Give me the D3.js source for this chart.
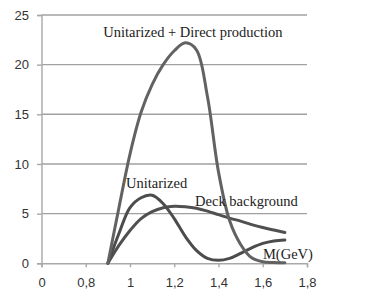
<!DOCTYPE html>
<html><head><meta charset="utf-8">
<script src="https://cdn.jsdelivr.net/npm/d3@7"></script>
<style>html,body{margin:0;padding:0;background:#fff;}svg{display:block;}</style>
</head><body>
<svg id="c" width="374" height="307"></svg>
<script>
const xs = [0.9,0.95,1.0,1.05,1.1,1.15,1.2,1.25,1.3,1.35,1.4,1.45,1.5,1.55,1.6,1.65,1.7];
const direct = [0,5.6,11.0,15.2,18.0,20.0,21.4,22.2,21.5,16.8,9.2,4.3,1.9,0.55,0.15,0.08,0.05];
const unitarized = [0,3.0,5.6,6.6,6.85,6.0,4.5,2.7,1.3,0.5,0.3,0.5,1.0,1.55,2.0,2.25,2.35];
const deck = [0,1.8,3.3,4.5,5.2,5.6,5.75,5.7,5.55,5.25,4.9,4.55,4.25,3.9,3.6,3.35,3.1];
const xTicks = [0.6,0.8,1.0,1.2,1.4,1.6,1.8];
const xTickLabels = ["0","0,8","1","1,2","1,4","1,6","1,8"];
const yTicks = [0,5,10,15,20,25];
const labels = [
  {t:"Unitarized + Direct production", x:0.879, y:22.8},
  {t:"Unitarized", x:0.982, y:7.6},
  {t:"Deck background", x:1.294, y:5.8},
  {t:"M(GeV)", x:1.601, y:0.45}
];

const svg = d3.select("#c");
const x = d3.scaleLinear().domain([0.6,1.8]).range([41.5,307]);
const y = d3.scaleLinear().domain([0,25]).range([263.3,15]);

// gridlines
svg.append("g").selectAll("line").data(yTicks.filter(d=>d>0)).join("line")
  .attr("x1",x(0.6)).attr("x2",x(1.8)).attr("y1",d=>y(d)).attr("y2",d=>y(d))
  .attr("stroke","#a0a0a0").attr("stroke-width",1.4);

// y axis
const ya = svg.append("g").attr("transform",`translate(${x(0.6)},0)`)
  .call(d3.axisLeft(y).tickValues(yTicks).tickSize(4.5).tickPadding(8).tickFormat(d3.format("d")));
ya.select(".domain").attr("stroke","#a8a8a8").attr("stroke-width",1.4);
ya.selectAll(".tick line").attr("stroke","#a8a8a8").attr("stroke-width",1.4);
ya.selectAll("text").attr("font-family","'Liberation Sans', Arial, sans-serif").attr("font-size",13).attr("fill","#333");

// x axis
const xa = svg.append("g").attr("transform",`translate(0,${y(0)})`)
  .call(d3.axisBottom(x).tickValues(xTicks).tickSize(4).tickPadding(10).tickFormat((d,i)=>xTickLabels[i]));
xa.select(".domain").attr("stroke","#a8a8a8").attr("stroke-width",1.4);
xa.selectAll(".tick line").attr("stroke","#a8a8a8").attr("stroke-width",1.4);
xa.selectAll("text").attr("font-family","'Liberation Sans', Arial, sans-serif").attr("font-size",13).attr("fill","#333");

const line = d3.line().x((d,i)=>x(xs[i])).y(d=>y(d)).curve(d3.curveCatmullRom.alpha(0.5));
const series = [
  {v:deck, c:"#505050"},
  {v:unitarized, c:"#4c4c4c"},
  {v:direct, c:"#626262"}
];
svg.append("g").selectAll("path").data(series).join("path")
  .attr("d",d=>line(d.v)).attr("fill","none").attr("stroke",d=>d.c)
  .attr("stroke-width",3).attr("stroke-linecap","round").attr("stroke-linejoin","round");

svg.append("g").selectAll("text").data(labels).join("text")
  .attr("x",d=>x(d.x)).attr("y",d=>y(d.y)).text(d=>d.t)
  .attr("font-family","'Liberation Serif', 'Times New Roman', serif").attr("font-size",14.5).attr("fill","#222");
</script>
</body></html>
